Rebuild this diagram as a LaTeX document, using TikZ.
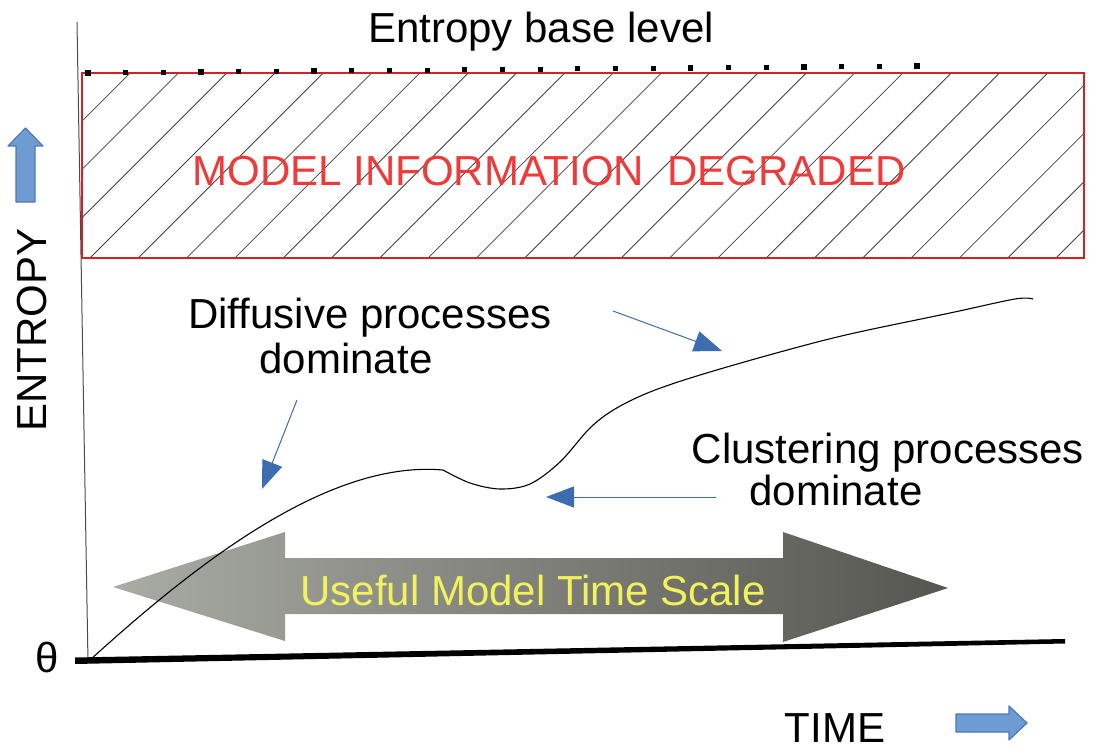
\documentclass[tikz,border=0pt]{standalone}
\usepackage{fontspec}
\setmainfont{Liberation Sans}
\usetikzlibrary{arrows.meta}
\definecolor{degred}{HTML}{F03A3A}
\definecolor{boxred}{HTML}{D42222}
\definecolor{blockblue}{HTML}{6D9BD2}
\definecolor{blockedge}{HTML}{4A7AB5}
\definecolor{notearrow}{HTML}{3C6DB0}
\definecolor{spanlight}{HTML}{A9ABA5}
\definecolor{spandark}{HTML}{55564F}
\definecolor{spantext}{HTML}{F2F25C}
\tikzset{
  big/.style={font=\fontsize{42}{50}\selectfont, inner sep=0pt, anchor=base},
  blockarrow/.style={fill=blockblue, draw=blockedge, line width=1.2pt, line join=round},
  notearrow/.style={draw=notearrow, line width=1pt,
    -{Triangle[length=28pt,width=21pt]}},
  hatch/.style={draw=black!75, line width=0.8pt},
}
\begin{document}
\begin{tikzpicture}[x=1pt,y=-1pt]
\useasboundingbox (0,0) rectangle (1095,749);

% title above the dotted base level
\node[big] (base) at (541,43) {Entropy base level};

% hatched region
\coordinate (boxNW) at (82,73);
\coordinate (boxSE) at (1084,258);
\begin{scope}
  \clip (boxNW) rectangle (boxSE);
  \foreach \k in {-5,...,22}{
    \draw[hatch] ({90+48.3*\k},258) -- ++(300,-300);
  }
\end{scope}
\draw[boxred, line width=1.3pt] (boxNW) rectangle (boxSE);
\node[big, text=degred] (deg) at (549,185) {MODEL INFORMATION\ \ DEGRADED};

% dotted base level
\foreach \i in {0,...,22}{
  \fill ({88+\i*37.68-2.6},{73-\i*7/22-2.6}) rectangle ++(5.2,5.2);
}

% y axis label and arrow
\node[big, rotate=90] (ylab) at (46,330) {ENTROPY};
\path[blockarrow] (16,202) -- (16,146) -- (8,146) -- (25.5,128) -- (43,146)
  -- (35,146) -- (35,202) -- cycle;

% x axis label and arrow
\node[big] (xlab) at (835,742) {TIME};
\path[blockarrow] (956,714) -- (1009,714) -- (1009,706) -- (1027,723)
  -- (1009,740) -- (1009,732) -- (956,732) -- cycle;

% double arrow for the useful time span
\shade[left color=spanlight, right color=spandark]
  (113,587) -- (285,532) -- (285,558) -- (783,558) -- (783,532) -- (948,588)
  -- (783,642) -- (783,614) -- (285,614) -- (285,641) -- cycle;
\node[big, text=spantext] (span) at (533,605) {Useful Model Time Scale};

% axes
\draw[black!70, line width=1pt] (77,22) -- (88,662);
\fill (75,657.5) -- (1065,639) -- (1065,643.5) -- (75,664) -- cycle;
\node[big] (zero) at (47,672) {θ};

% entropy curve
\draw[black, line width=1.1pt] (90,660) .. controls (200,560) and (330,460) .. (443,470);
\draw[black, line width=1.1pt] plot[smooth, tension=0.55] coordinates {
  (443,470) (470,483) (500,489) (530,484) (560,462) (590,428) (615,409)
  (650,392) (700,375) (780,352) (850,334) (950,313) (1015,299) (1033,299)};

% annotations
\node[big] (diff1) at (370,328) {Diffusive processes};
\node[big] (diff2) at (346,373) {dominate};
\node[big] (clu1) at (888,463) {Clustering processes};
\node[big] (clu2) at (836,505) {dominate};
\coordinate (d1s) at (297,400);
\coordinate (d1e) at (262,489);
\coordinate (d2s) at (613,311);
\coordinate (d2e) at (722,351);
\coordinate (c1s) at (716,497);
\coordinate (c1e) at (546,497);
\draw[notearrow] (d1s) -- (d1e);
\draw[notearrow] (d2s) -- (d2e);
\draw[notearrow] (c1s) -- (c1e);
\end{tikzpicture}
\end{document}
